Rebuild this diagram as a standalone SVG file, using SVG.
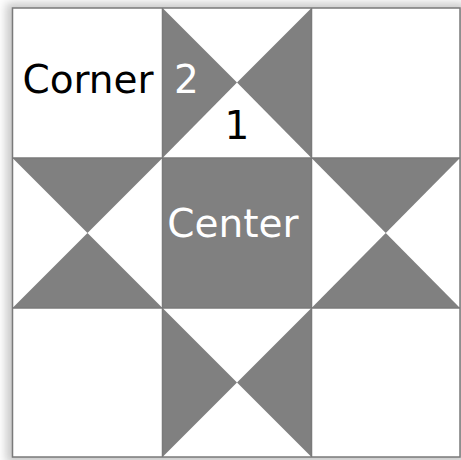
<svg xmlns="http://www.w3.org/2000/svg" width="461" height="460" viewBox="0 0 461 460">
<style>
.g{fill:#808080}
.ln{stroke:#7a7a7a;stroke-width:1.5;fill:none}
.t{font-family:"DejaVu Sans",Verdana,sans-serif;font-size:39px}
</style>
<defs>
<filter id="sh" x="-10%" y="-10%" width="120%" height="120%">
<feGaussianBlur stdDeviation="5"/>
</filter>
</defs>
<rect x="0" y="0" width="461" height="460" fill="#ffffff"/>
<rect x="6" y="3" width="460" height="460" fill="#c8c8c8" filter="url(#sh)"/>
<rect x="12.5" y="8" width="447.5" height="449" fill="#ffffff"/>
<g id="top-middle">
<polygon class="g" points="162.5,8 237,82.5 162.5,158"/>
<polygon class="g" points="311.5,8 237,82.5 311.5,158"/>
<text class="t" x="174" y="93" fill="#ffffff">2</text>
<text class="t" x="237" y="139" fill="#000000" text-anchor="middle">1</text>
</g>
<g id="corner">
<text class="t" x="88" y="93" fill="#000000" text-anchor="middle">Corner</text>
</g>
<g id="middle-left">
<polygon class="g" points="12.5,158 162.5,158 87.5,233"/>
<polygon class="g" points="12.5,308 162.5,308 87.5,233"/>
</g>
<g id="center">
<rect class="g" x="162.5" y="158" width="149" height="150"/>
<text class="t" x="233" y="237" fill="#ffffff" text-anchor="middle">Center</text>
</g>
<g id="middle-right">
<polygon class="g" points="311.5,158 460,158 385.75,233"/>
<polygon class="g" points="311.5,308 460,308 385.75,233"/>
</g>
<g id="bottom-middle">
<polygon class="g" points="162.5,308 237,382.5 162.5,457"/>
<polygon class="g" points="311.5,308 237,382.5 311.5,457"/>
</g>
<g id="grid">
<rect class="ln" x="12.5" y="8" width="447.5" height="449"/>
<line class="ln" x1="162.5" y1="8" x2="162.5" y2="457"/>
<line class="ln" x1="311.5" y1="8" x2="311.5" y2="457"/>
<line class="ln" x1="12.5" y1="158" x2="460" y2="158"/>
<line class="ln" x1="12.5" y1="308" x2="460" y2="308"/>
</g>
</svg>
